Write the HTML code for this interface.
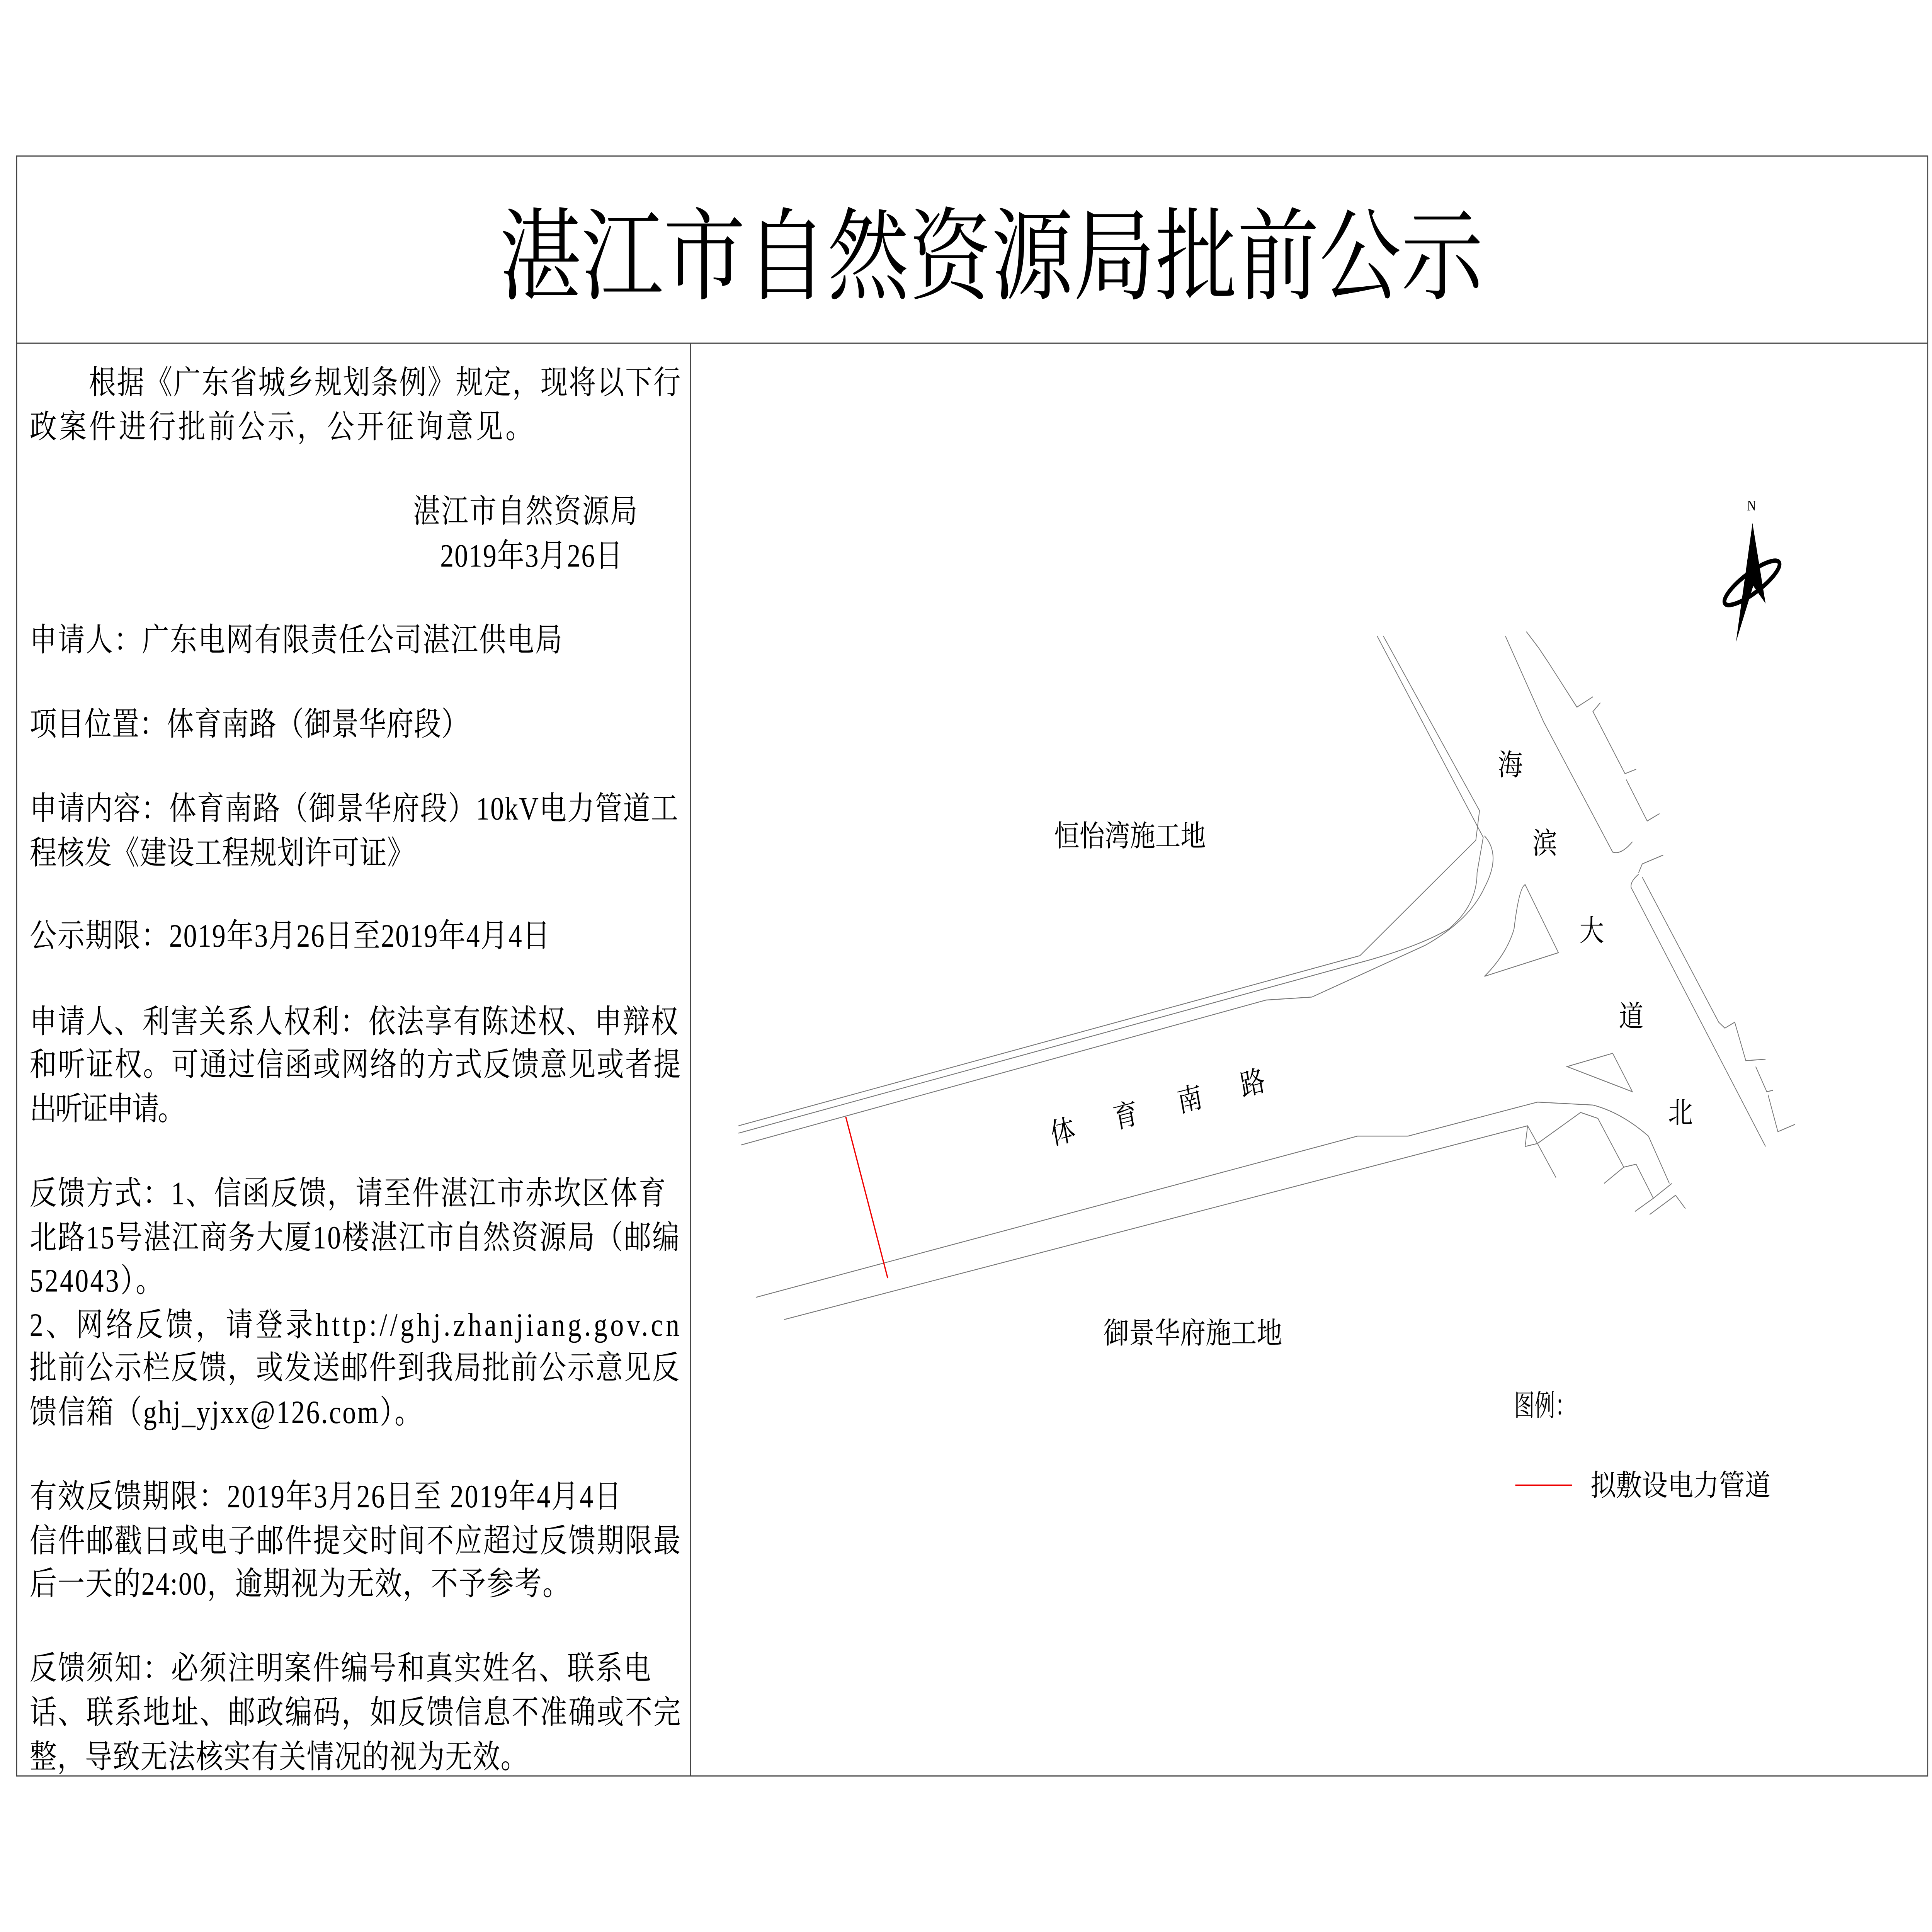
<!DOCTYPE html>
<html><head><meta charset="utf-8"><style>
html,body{margin:0;padding:0;background:#fff;width:100vw;height:100vh;overflow:hidden;position:relative}
svg{display:block;position:absolute;left:0;top:0;width:100vw;height:100vh;overflow:hidden}
text{font-family:"Liberation Serif","Noto Serif CJK SC",serif;fill:#000}
</style></head><body>
<svg viewBox="0 0 1567 1306" preserveAspectRatio="none" xmlns="http://www.w3.org/2000/svg">
<g fill="none" stroke="#444" stroke-width="0.8">
<rect x="13.5" y="105.5" width="1550" height="1095"/>
<line x1="13.5" y1="232" x2="1563.5" y2="232"/>
<line x1="560" y1="232" x2="560" y2="1200.5"/>
</g>
<text x="405" y="197" font-size="68" textLength="798" lengthAdjust="spacingAndGlyphs">湛江市自然资源局批前公示</text>
<g font-size="22" lengthAdjust="spacingAndGlyphs">
<text x="72" y="266" textLength="480">根据《广东省城乡规划条例》规定，现将以下行</text>
<text x="24" y="296" textLength="408">政案件进行批前公示，公开征询意见。</text>
<text x="335" y="353" textLength="182">湛江市自然资源局</text>
<text x="357" y="383" textLength="148">2019年3月26日</text>
<text x="24" y="440" textLength="432">申请人：广东电网有限责任公司湛江供电局</text>
<text x="24" y="497" textLength="356">项目位置：体育南路（御景华府段）</text>
<text x="24" y="554" textLength="526">申请内容：体育南路（御景华府段）10kV电力管道工</text>
<text x="24" y="584" textLength="312">程核发《建设工程规划许可证》</text>
<text x="24" y="640" textLength="422">公示期限：2019年3月26日至2019年4月4日</text>
<text x="24" y="698" textLength="526">申请人、利害关系人权利：依法享有陈述权、申辩权</text>
<text x="24" y="727" textLength="528">和听证权。可通过信函或网络的方式反馈意见或者提</text>
<text x="24" y="757" textLength="126">出听证申请。</text>
<text x="24" y="814" textLength="516">反馈方式：1、信函反馈，请至件湛江市赤坎区体育</text>
<text x="24" y="844" textLength="527">北路15号湛江商务大厦10楼湛江市自然资源局（邮编</text>
<text x="24" y="873" textLength="108">524043）。</text>
<text x="24" y="903" textLength="527">2、网络反馈，请登录http://ghj.zhanjiang.gov.cn</text>
<text x="24" y="932" textLength="527">批前公示栏反馈，或发送邮件到我局批前公示意见反</text>
<text x="24" y="962" textLength="318">馈信箱（ghj_yjxx@126.com）。</text>
<text x="24" y="1019" textLength="480">有效反馈期限：2019年3月26日至 2019年4月4日</text>
<text x="24" y="1049" textLength="528">信件邮戳日或电子邮件提交时间不应超过反馈期限最</text>
<text x="24" y="1078" textLength="438">后一天的24:00，逾期视为无效，不予参考。</text>
<text x="24" y="1135" textLength="504">反馈须知：必须注明案件编号和真实姓名、联系电</text>
<text x="24" y="1165" textLength="528">话、联系地址、邮政编码，如反馈信息不准确或不完</text>
<text x="24" y="1195" textLength="404">整，导致无法核实有关情况的视为无效。</text>
</g>
<g fill="none" stroke="#777" stroke-width="0.6">
<path d="M599,761 L1103,646 L1197,568 L1200,548 L1122,430"/>
<path d="M599,766 L1106,650 Q1150,640 1175,628 Q1198,612 1198,590 L1203,566 L1117,430"/>
<path d="M601,774 L1027,676 L1064,674 L1156,639 Q1192,622 1204,600 Q1218,578 1204,565"/>
<path d="M613,877 L1101,768 L1142,768 L1247,745 L1292,747 Q1315,752 1337,768 L1354,800"/>
<path d="M636,892 L1239,761 L1247,773 L1262,796"/>
<path d="M1239,761 L1237,775 L1247,773 L1282,752 L1296,756 L1317,789 L1301,800"/>
<path d="M1317,789 L1327,787 L1341,810 L1326,819"/>
<path d="M1341,810 L1356,800"/>
<path d="M1338,821 L1359,808 L1367,817"/>
<path d="M1221,430 L1252,488 L1308,576 Q1315,578 1324,569"/>
<path d="M1238,427 L1248,438 L1256,448 L1279,478 L1292,471"/>
<path d="M1298,475 L1292,481 L1318,523 L1327,520"/>
<path d="M1319,527 L1336,555 L1346,550"/>
<path d="M1329,590 L1332,584 L1349,578"/>
<path d="M1329,591 Q1322,596 1323,600 L1432,775"/>
<path d="M1332,593 L1394,691 L1399,695 L1407,691 L1416,717 L1432,716"/>
<path d="M1424,721 L1433,738 L1438,737"/>
<path d="M1434,740 L1442,765 L1456,760"/>
<path d="M1237,598 Q1232,600 1228,628 Q1222,645 1204,660 L1264,644 Z"/>
<path d="M1271,721 L1308,712 L1324,738 Z"/>
</g>
<line x1="686" y1="755" x2="720" y2="864" stroke="#e00" stroke-width="1"/>
<g font-size="20">
<text x="855" y="572" textLength="123" lengthAdjust="spacingAndGlyphs">恒怡湾施工地</text>
<text x="895" y="908" textLength="145" lengthAdjust="spacingAndGlyphs">御景华府施工地</text>
<text x="1215" y="524">海</text>
<text x="1243" y="577">滨</text>
<text x="1281" y="636">大</text>
<text x="1313" y="694">道</text>
<text x="1353" y="759">北</text>
<text transform="translate(862,765) rotate(-12)" x="-10" y="7">体</text>
<text transform="translate(913,754) rotate(-12)" x="-10" y="7">育</text>
<text transform="translate(965,743) rotate(-12)" x="-10" y="7">南</text>
<text transform="translate(1016,732) rotate(-12)" x="-10" y="7">路</text>
<text x="1228" y="957" textLength="50" lengthAdjust="spacingAndGlyphs">图例：</text>
<text x="1290" y="1011" textLength="146" lengthAdjust="spacingAndGlyphs">拟敷设电力管道</text>
</g>
<line x1="1229" y1="1004" x2="1275" y2="1004" stroke="#e00" stroke-width="1"/>
<text x="1417" y="345" font-size="10">N</text>
<polygon points="1421.4,353.6 1432,408 1422,396 1408,434" fill="#000"/>
<ellipse cx="1421" cy="394" rx="26" ry="7" transform="rotate(-32 1421 394)" fill="none" stroke="#000" stroke-width="3"/>
</svg>
</body></html>
